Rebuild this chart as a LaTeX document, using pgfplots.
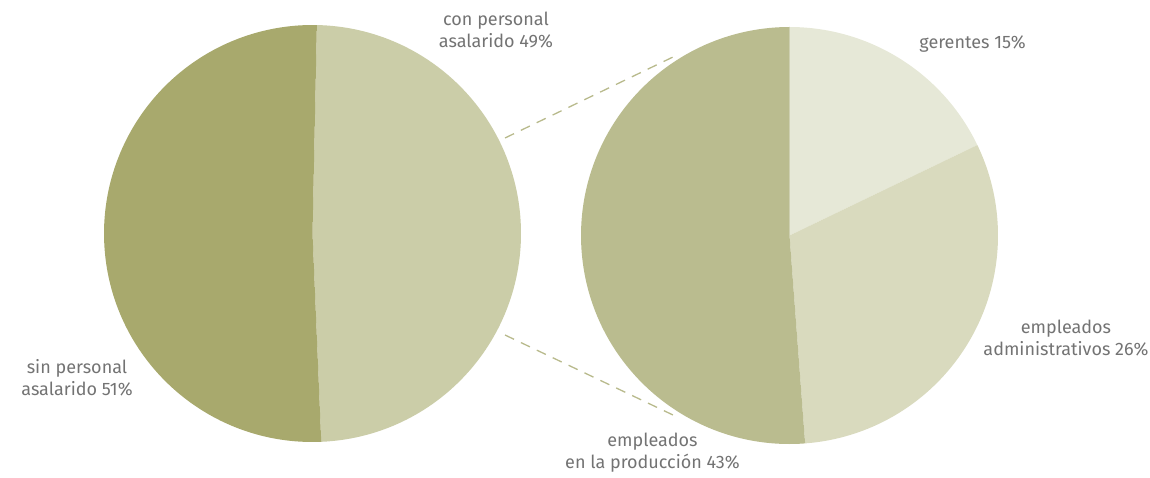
\documentclass[border=0pt]{standalone}
\usepackage{pgfplots}
\pgfplotsset{compat=1.18}
\usepackage{fontspec}
\setmainfont{Fira Sans}
\definecolor{darkolive}{HTML}{A8A96D}
\definecolor{lightolive}{HTML}{CBCDA8}
\definecolor{prod}{HTML}{BABC8F}
\definecolor{admin}{HTML}{D9DABE}
\definecolor{ger}{HTML}{E6E8D7}
\definecolor{dashcol}{HTML}{B8BA8C}
\definecolor{txt}{HTML}{737373}
\tikzset{lbl/.style={font=\fontsize{9}{11}\selectfont, text=txt, align=center, inner sep=0pt}}
% data (percent)
\def\vCon{49}\def\vSin{51}
\def\vGer{15}\def\vAdm{26}\def\vPro{43}
% geometry (in pixel units of the axis)
\def\Lcx{312.5}\def\Lcy{243.5}\def\R{208.5}
\def\Rcx{789.5}\def\Rcy{241.5}
\pgfmathsetmacro{\LaA}{88.8}
\pgfmathsetmacro{\LaB}{\LaA-\vCon*3.6}
\pgfmathsetmacro{\LaC}{\LaA-360}
\pgfmathsetmacro{\Tot}{\vGer+\vAdm+\vPro}
\pgfmathsetmacro{\RaA}{90}
\pgfmathsetmacro{\RaB}{\RaA-\vGer/\Tot*360}
\pgfmathsetmacro{\RaC}{\RaB-\vAdm/\Tot*360}
\pgfmathsetmacro{\RaD}{\RaA-360}
\pgfmathsetmacro{\Rpt}{\R*0.5}
\newcommand{\slice}[5]{% cx cy a1 a2 color
  \fill[#5] (axis cs:#1,#2) -- (axis cs:{#1+\R*cos(#3)},{#2+\R*sin(#3)})
    arc[start angle=#3, end angle=#4, radius=\Rpt pt] -- cycle;}
\begin{document}
\begin{tikzpicture}
\begin{axis}[
  x=0.5pt, y=0.5pt, xmin=0, xmax=1150, ymin=0, ymax=477,
  hide axis, clip=false, scale only axis,
]
\path (axis cs:0,0) rectangle (axis cs:1150,477);
% left pie
\slice{\Lcx}{\Lcy}{\LaA}{\LaB}{lightolive}
\slice{\Lcx}{\Lcy}{\LaB}{\LaC}{darkolive}
% right pie
\slice{\Rcx}{\Rcy}{\RaA}{\RaB}{ger}
\slice{\Rcx}{\Rcy}{\RaB}{\RaC}{admin}
\slice{\Rcx}{\Rcy}{\RaC}{\RaD}{prod}
% connectors
\addplot[dashcol, line width=0.65pt, dash pattern=on 5pt off 3.8pt] coordinates {(505,339) (673,420)};
\addplot[dashcol, line width=0.65pt, dash pattern=on 5pt off 3.8pt] coordinates {(505,142) (673,62)};
% labels
\node[lbl] at (axis cs:496,447) {con personal\\asalarido \vCon\%};
\node[lbl] at (axis cs:77,99) {sin personal\\asalarido \vSin\%};
\node[lbl] at (axis cs:972.5,433) {gerentes \vGer\%};
\node[lbl] at (axis cs:1066,138.5) {empleados\\administrativos \vAdm\%};
\node[lbl] at (axis cs:652.5,24.5) {empleados\\en la producción \vPro\%};
\end{axis}
\end{tikzpicture}
\end{document}
